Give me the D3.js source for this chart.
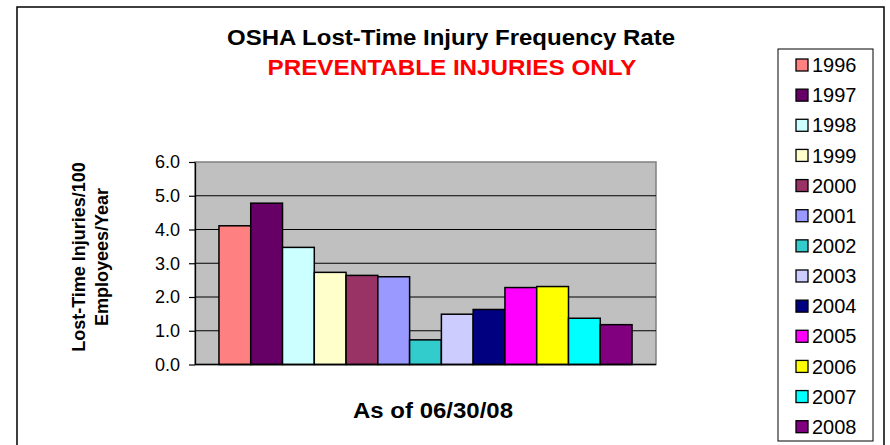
<!DOCTYPE html>
<html>
<head>
<meta charset="utf-8">
<script src="https://cdn.jsdelivr.net/npm/d3@7"></script>
<style>
  html, body { margin: 0; padding: 0; background: #fff; }
  svg { display: block; font-family: "Liberation Sans", Arial, sans-serif; }
</style>
</head>
<body>
<svg id="chart" width="890" height="445"></svg>
<script>
const categories = [""];
const years = ["1996","1997","1998","1999","2000","2001","2002","2003","2004","2005","2006","2007","2008"];
const values = [4.11, 4.78, 3.47, 2.73, 2.64, 2.60, 0.73, 1.49, 1.63, 2.28, 2.31, 1.37, 1.18];
const colors = ["#FF8080","#660066","#CCFFFF","#FFFFCC","#993366","#9999FF","#33CCCC","#CCCCFF","#000080","#FF00FF","#FFFF00","#00FFFF","#800080"];
const yTicks = [0, 1, 2, 3, 4, 5, 6];
const title = "OSHA Lost-Time Injury Frequency Rate";
const subtitle = "PREVENTABLE INJURIES ONLY";
const xTitle = "As of 06/30/08";
const yTitle = ["Lost-Time Injuries/100", "Employees/Year"];

const svg = d3.select("#chart");
const plot = {left: 195, right: 656, top: 162, bottom: 364.5};

// outer frame
svg.append("rect").attr("x", 17).attr("y", 7).attr("width", 867).attr("height", 460)
  .attr("fill", "#fff").attr("stroke", "#000").attr("stroke-width", 1.5);

const x0 = d3.scaleBand().domain(categories).range([plot.left, plot.right]).paddingInner(0).paddingOuter(0.058);
const x1 = d3.scaleBand().domain(years).range([0, x0.bandwidth()]).padding(0);
const y = d3.scaleLinear().domain([0, 6]).range([plot.bottom, plot.top]);

// plot background
svg.append("rect").attr("x", plot.left).attr("y", plot.top)
  .attr("width", plot.right - plot.left).attr("height", plot.bottom - plot.top)
  .attr("fill", "#C0C0C0").attr("stroke", "#808080").attr("stroke-width", 1.5);

// gridlines
svg.append("g").selectAll("line").data(yTicks.filter(d => d > 0 && d < 6)).join("line")
  .attr("x1", plot.left).attr("x2", plot.right)
  .attr("y1", d => y(d)).attr("y2", d => y(d))
  .attr("stroke", "#000").attr("stroke-width", 1);

// bars
const data = years.map((yr, i) => ({year: yr, value: values[i], color: colors[i]}));
svg.append("g").selectAll("rect").data(data).join("rect")
  .attr("x", d => x0("") + x1(d.year))
  .attr("y", d => y(d.value))
  .attr("width", x1.bandwidth())
  .attr("height", d => y(0) - y(d.value))
  .attr("fill", d => d.color)
  .attr("stroke", "#000").attr("stroke-width", 1.5);

// y axis
const yAxis = d3.axisLeft(y).tickValues(yTicks).tickFormat(d3.format(".1f")).tickSizeInner(6).tickSizeOuter(0).tickPadding(9);
const ga = svg.append("g").attr("transform", `translate(${plot.left},0)`).call(yAxis);
ga.select(".domain").attr("stroke", "#000").attr("stroke-width", 1.3);
ga.selectAll(".tick line").attr("stroke", "#000").attr("stroke-width", 1.2);
ga.selectAll(".tick text").attr("font-size", 18).attr("fill", "#000")
  .attr("font-family", "'Liberation Sans', Arial, sans-serif");

// x axis baseline
svg.append("line").attr("x1", plot.left).attr("x2", plot.right)
  .attr("y1", y(0)).attr("y2", y(0)).attr("stroke", "#000").attr("stroke-width", 1.3);

// titles
svg.append("text").attr("x", 451).attr("y", 45).attr("text-anchor", "middle")
  .attr("font-size", 22).attr("font-weight", "bold").attr("fill", "#000")
  .attr("textLength", 448).attr("lengthAdjust", "spacingAndGlyphs").text(title);
svg.append("text").attr("x", 452).attr("y", 75).attr("text-anchor", "middle")
  .attr("font-size", 22).attr("font-weight", "bold").attr("fill", "#FF0000")
  .attr("textLength", 369).attr("lengthAdjust", "spacingAndGlyphs").text(subtitle);
svg.append("text").attr("x", 433).attr("y", 418).attr("text-anchor", "middle")
  .attr("font-size", 22).attr("font-weight", "bold").attr("fill", "#000")
  .attr("textLength", 160).attr("lengthAdjust", "spacingAndGlyphs").text(xTitle);

// y title
const yt = svg.append("text").attr("transform", `translate(85,257) rotate(-90)`)
  .attr("text-anchor", "middle").attr("font-size", 18).attr("font-weight", "bold").attr("fill", "#000");
yTitle.forEach((t, i) => yt.append("tspan").attr("x", 0).attr("dy", i === 0 ? 0 : 23).text(t));

// legend
svg.append("rect").attr("x", 778).attr("y", 49).attr("width", 95).attr("height", 392)
  .attr("fill", "#fff").attr("stroke", "#000").attr("stroke-width", 1);
const ly = d3.scalePoint().domain(years).range([65, 426.7]);
const lg = svg.append("g").selectAll("g").data(data).join("g")
  .attr("transform", d => `translate(0,${ly(d.year)})`);
lg.append("rect").attr("x", 796).attr("y", -6).attr("width", 12).attr("height", 12)
  .attr("fill", d => d.color).attr("stroke", "#000").attr("stroke-width", 1.3);
lg.append("text").attr("x", 812).attr("y", 0).attr("dy", "0.36em")
  .attr("font-size", 20).attr("fill", "#000").text(d => d.year);
</script>
</body>
</html>
